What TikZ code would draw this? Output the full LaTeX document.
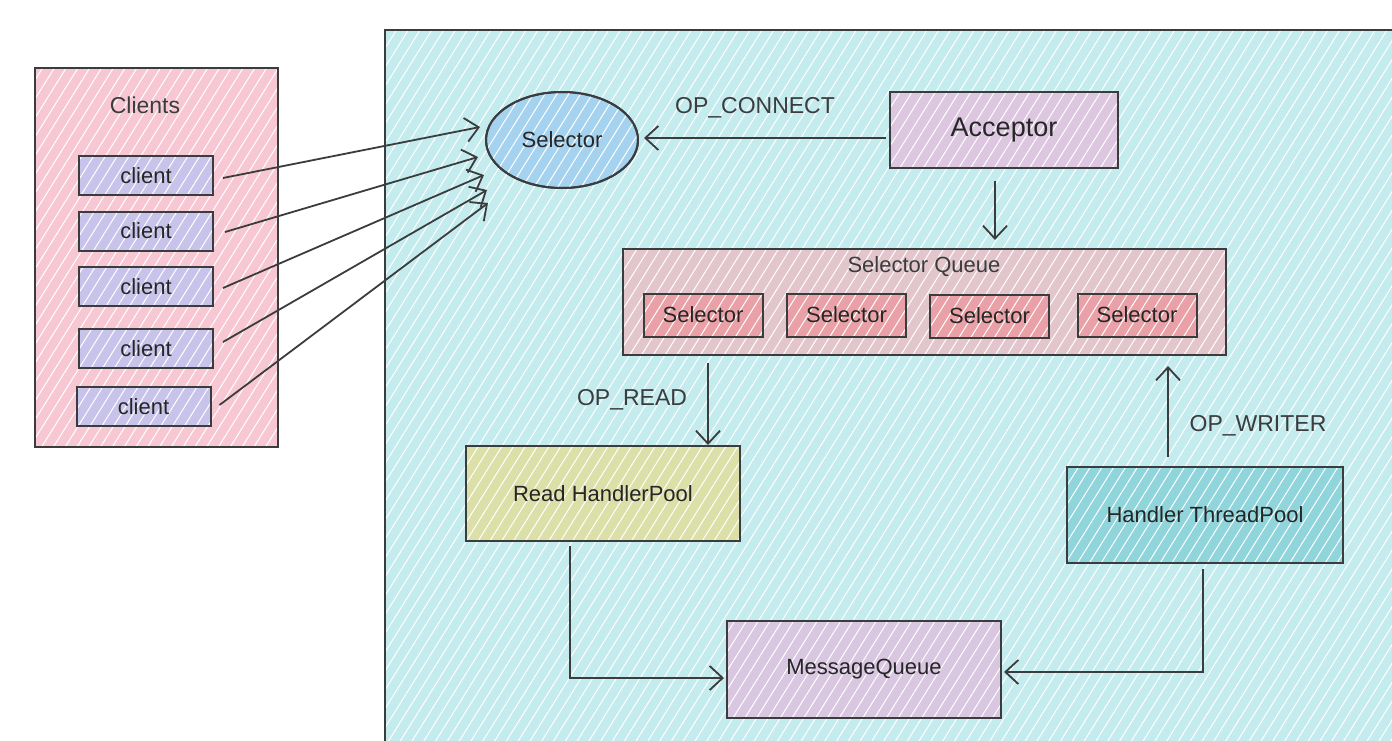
\documentclass[tikz,border=0pt]{standalone}
\usepackage{fontspec}
\setmainfont{Liberation Sans}
\usetikzlibrary{arrows.meta,calc,shapes.geometric,patterns.meta}
\definecolor{ink}{HTML}{3A3C3E}
\definecolor{panel}{HTML}{C4EBED}
\definecolor{clientsbg}{HTML}{F7C8D3}
\definecolor{clientbg}{HTML}{C8C3EA}
\definecolor{selbg}{HTML}{A5D3EF}
\definecolor{accbg}{HTML}{DCC6E0}
\definecolor{sqbg}{HTML}{E2C6CC}
\definecolor{innerbg}{HTML}{E9A0A6}
\definecolor{readbg}{HTML}{DBE0A8}
\definecolor{htpbg}{HTML}{8FD5DB}
\definecolor{mqbg}{HTML}{D9C6E0}
\tikzset{
  hatch/.style={postaction={fill opacity=0.35,pattern={Lines[angle=58,distance=5pt,line width=0.5pt]},pattern color=white}},
  box/.style={draw=ink,line width=1pt,rectangle,inner sep=0pt,hatch,
    postaction={draw=ink,line width=1pt},font=\fontsize{11}{13}\selectfont,text=black!85},
  arr/.style={draw=ink,line width=0.9pt,-{Straight Barb[length=6.5pt,width=12pt,line width=0.9pt]}},
  lbl/.style={text=ink,font=\fontsize{11.5}{13}\selectfont,inner sep=0pt}
}
\begin{document}
\begin{tikzpicture}[x=0.5pt,y=-0.5pt]
\useasboundingbox (0,0) rectangle (1392,740);
% main panel
\fill[panel,hatch] (385,30) rectangle (1400,750);
\draw[ink,line width=1pt] (385,750) -- (385,30) -- (1400,30);
% clients
\node[box,fill=clientsbg,minimum width=121.5pt,minimum height=189.5pt] (clients) at (156.5,257.5) {};
\node[lbl] (clientslbl) at (145,105) {Clients};
\node[box,fill=clientbg,minimum width=67pt,minimum height=19.5pt] (c1) at (146,175.5) {client};
\node[box,fill=clientbg,minimum width=67pt,minimum height=19.5pt] (c2) at (146,231) {client};
\node[box,fill=clientbg,minimum width=67pt,minimum height=19.5pt] (c3) at (146,286.5) {client};
\node[box,fill=clientbg,minimum width=67pt,minimum height=19.5pt] (c4) at (146,348.5) {client};
\node[box,fill=clientbg,minimum width=67pt,minimum height=19.5pt] (c5) at (143.5,406.5) {client};
% selector
\node[box,ellipse,fill=selbg,minimum width=76pt,minimum height=48pt] (sel) at (562,140) {Selector};
% acceptor
\node[box,fill=accbg,minimum width=114pt,minimum height=38pt,font=\fontsize{13.5}{15}\selectfont] (acc) at (1004,130) {Acceptor};
% selector queue
\node[box,fill=sqbg,minimum width=301.5pt,minimum height=53pt] (sq) at (924.5,302) {};
\node[lbl,font=\fontsize{11}{13}\selectfont] (sqlbl) at (924,267) {Selector Queue};
\node[box,fill=innerbg,minimum width=59.5pt,minimum height=21.5pt] (s1) at (703,315) {Selector};
\node[box,fill=innerbg,minimum width=59.5pt,minimum height=21.5pt] (s2) at (846.5,315) {Selector};
\node[box,fill=innerbg,minimum width=59.5pt,minimum height=21.5pt] (s3) at (989.5,316) {Selector};
\node[box,fill=innerbg,minimum width=59.5pt,minimum height=21.5pt] (s4) at (1137,315) {Selector};
% pools
\node[box,fill=readbg,minimum width=137pt,minimum height=47.5pt] (read) at (603,493.5) {Read HandlerPool};
\node[box,fill=htpbg,minimum width=138pt,minimum height=48pt] (htp) at (1205,515) {Handler ThreadPool};
\node[box,fill=mqbg,minimum width=137pt,minimum height=48.5pt] (mq) at (864,669.5) {MessageQueue};
% client arrows
\coordinate (t1) at ($(sel)+(-82,-13)$);
\coordinate (t2) at ($(sel)+(-84,17)$);
\coordinate (t3) at ($(sel)+(-78,35)$);
\coordinate (t4) at ($(sel)+(-75,50)$);
\coordinate (t5) at ($(sel)+(-74,63)$);
\draw[arr] ($(c1.east)+(9,2.5)$) -- (t1);
\draw[arr] ($(c2.east)+(11,1)$) -- (t2);
\draw[arr] ($(c3.east)+(9,1.5)$) -- (t3);
\draw[arr] ($(c4.east)+(9,-6.5)$) -- (t4);
\draw[arr] ($(c5.east)+(8,-1.5)$) -- (t5);
% acceptor -> selector
\draw[arr] ($(acc.west)+(-3,8)$) -- ($(sel.east)+(5,-2)$);
\node[lbl] (opc) at (755,108) {OP\_CONNECT};
% acceptor -> queue
\draw[arr] ($(acc.south)+(-9,12)$) -- ($(acc.south|-sq.north)+(-9,-8)$);
% queue -> read
\draw[arr] ($(read.north|-sq.south)+(105,7)$) -- ($(read.north)+(105,0)$);
\node[lbl] (opr) at (632,400) {OP\_READ};
% htp -> queue
\draw[arr] ($(htp.north)+(-37,-9)$) -- ($(htp.north|-sq.south)+(-37,10)$);
\node[lbl] (opw) at (1258,426) {OP\_WRITER};
% pools -> message queue
\draw[arr] ($(read.south)+(-33,4)$) |- ($(mq.west)+(-2,8.5)$);
\draw[arr] ($(htp.south)+(-2,5)$) |- ($(mq.east)+(2,2.5)$);
\end{tikzpicture}
\end{document}
